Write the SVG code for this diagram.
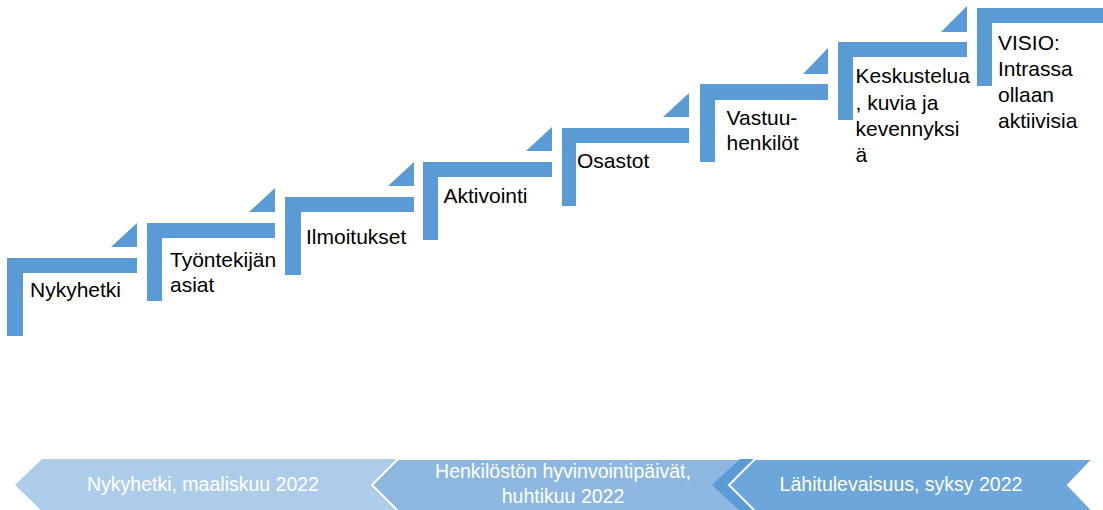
<svg xmlns="http://www.w3.org/2000/svg" width="1103" height="510" viewBox="0 0 1103 510">
<style>
.st{fill:#5B9BD5}
.t{font-family:"Liberation Sans",Arial,sans-serif;font-size:21px;fill:#000}
.bt{font-family:"Liberation Sans",Arial,sans-serif;font-size:19.5px;fill:#fff;text-anchor:middle}
</style>
<rect width="1103" height="510" fill="#fff"/>
<g id="step1"><path class="st" d="M7,258H137V273H23V336H7Z"/><path class="st" d="M137,223V247H111Z"/><text class="t" x="30" y="297">Nykyhetki</text></g>
<g id="step2"><path class="st" d="M147,223H275V238H162V301H147Z"/><path class="st" d="M275,188V212H249Z"/><text class="t" x="170" y="267">Työntekijän</text><text class="t" x="170" y="291.5">asiat</text></g>
<g id="step3"><path class="st" d="M285,197H414V212H301V275H285Z"/><path class="st" d="M414,162V186H388Z"/><text class="t" x="306" y="244">Ilmoitukset</text></g>
<g id="step4"><path class="st" d="M423,162H552V177H438V240H423Z"/><path class="st" d="M552,127V151H526Z"/><text class="t" x="443.5" y="203">Aktivointi</text></g>
<g id="step5"><path class="st" d="M562,128H689V143H576V206H562Z"/><path class="st" d="M689,93V117H663Z"/><text class="t" x="577" y="168">Osastot</text></g>
<g id="step6"><path class="st" d="M700,84H828V100H715V162H700Z"/><path class="st" d="M828,48V74H803Z"/><text class="t" x="726.5" y="125">Vastuu-</text><text class="t" x="726.5" y="150">henkilöt</text></g>
<g id="step7"><path class="st" d="M838,42H967V57H853V120H838Z"/><path class="st" d="M967,6V32H941Z"/><text class="t" x="855.5" y="83">Keskustelua</text><text class="t" x="855.5" y="109.5">, kuvia ja</text><text class="t" x="855.5" y="136">kevennyksi</text><text class="t" x="855.5" y="162">ä</text></g>
<g id="step8"><path class="st" d="M977,8H1107V23H992V86H977Z"/><text class="t" x="998" y="49.5">VISIO:</text><text class="t" x="998" y="75.5">Intrassa</text><text class="t" x="998" y="101.5">ollaan</text><text class="t" x="998" y="127.5">aktiivisia</text></g>
<g id="connectors"></g>
<g id="timeline1"><path d="M15,485L42,459H400L372,485L400,511H42Z" fill="#ADCCEA"/><text class="bt" x="203" y="490.5">Nykyhetki, maaliskuu 2022</text></g>
<g id="timeline2"><path d="M372,485L398,459H757L731,485L757,511H398Z" fill="#8DB7E1" stroke="#fff" stroke-width="2"/><path d="M712,485L740,459H757L731,485L757,511H740Z" fill="#5B9BD5"/><text class="bt" x="563" y="478">Henkilöstön hyvinvointipäivät,</text><text class="bt" x="563" y="502.5">huhtikuu 2022</text></g>
<g id="timeline3"><path d="M729,485L755,459H1093L1068,485L1093,511H755Z" fill="#6CA6DA" stroke="#fff" stroke-width="2"/><text class="bt" x="901" y="491">Lähitulevaisuus, syksy 2022</text></g>
</svg>
